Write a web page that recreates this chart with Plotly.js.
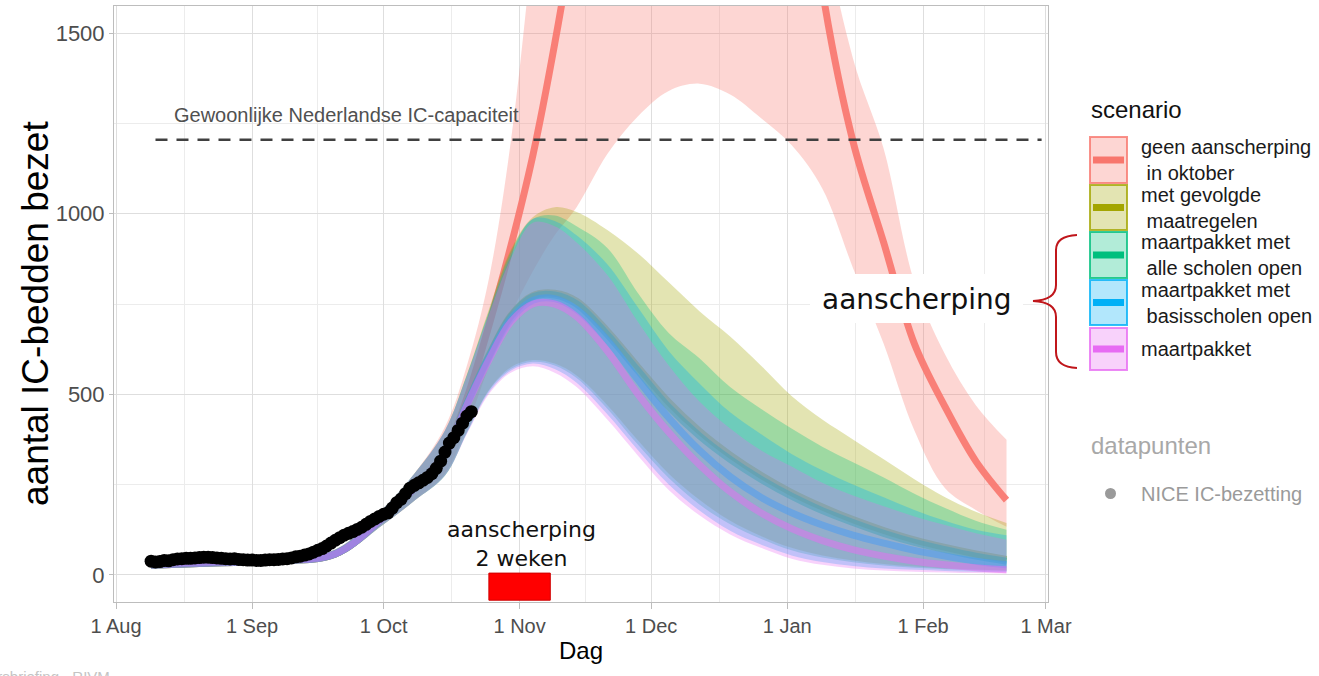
<!DOCTYPE html>
<html>
<head>
<meta charset="utf-8">
<script src="https://cdn.plot.ly/plotly-3.0.1.min.js"></script>
<style>html,body{margin:0;padding:0;background:#fff}#chart{width:1319px;height:676px}</style>
</head>
<body>
<div id="chart"></div>
<script>
// ---------------- DATA ----------------
const scenarioNames = ['geen aanscherping in oktober', 'met gevolgde maatregelen', 'maartpakket met alle scholen open', 'maartpakket met basisscholen open', 'maartpakket'];
const legendLabels = ['geen aanscherping<br>\u00a0in oktober', 'met gevolgde<br>\u00a0maatregelen', 'maartpakket met<br>\u00a0alle scholen open', 'maartpakket met<br>\u00a0basisscholen open', 'maartpakket'];
const scenarioColors = ['#F8766D', '#A3A500', '#00BF7D', '#00B0F6', '#E76BF3'];

const modelDates = ['2020-08-09','2020-08-23','2020-09-06','2020-09-20','2020-10-01','2020-10-08','2020-10-15','2020-10-20','2020-10-25','2020-10-30','2020-11-04','2020-11-09','2020-11-14','2020-11-21','2020-11-28','2020-12-05','2020-12-12','2020-12-19','2020-12-26','2021-01-02','2021-01-09','2021-01-16','2021-01-23','2021-01-30','2021-02-06','2021-02-13','2021-02-20'];

// geen aanscherping in oktober
const redMedian = [27,33,38,58,160,240,340,490,690,910,1160,1470,1830,2400,2900,3200,3300,3200,2850,2300,1620,1200,920,640,465,315,207];
const redLower  = [22,27,32,48,140,205,280,410,576,720,840,940,1018,1165,1270,1340,1360,1330,1265,1190,1070,850,640,400,240,180,133];
const redUpper  = [33,40,46,70,185,280,410,580,820,1200,1750,2400,3000,3800,4400,4700,4800,4600,4000,3100,1850,1430,1180,810,610,470,374];
// met gevolgde maatregelen
const oliveMedian = [27,33,38,58,160,240,335,475,607,718,773,780,758,675,575,478,398,332,276,228,188,153,123,97,76,58,43];
const oliveLower  = [22,27,32,48,140,205,275,395,512,575,595,585,552,470,372,280,208,150,108,75,54,40,30,23,18,15,12];
const oliveUpper  = [33,40,46,70,185,280,400,555,735,900,990,1018,1005,955,890,810,730,660,580,495,430,375,320,265,215,175,144];
// maartpakket met alle scholen open
const greenMedian = [27,33,38,58,160,240,335,475,605,715,770,775,750,665,565,465,385,320,265,218,178,145,115,90,70,52,38];
const greenLower  = [22,27,32,48,140,205,275,395,510,570,590,580,545,460,360,268,195,140,100,68,48,35,26,20,16,13,11];
const greenUpper  = [33,40,46,70,185,280,400,555,730,895,985,995,965,905,780,670,600,520,460,405,355,312,270,225,185,150,125];
// maartpakket met basisscholen open
const blueMedian = [27,33,38,58,160,240,335,472,600,708,760,765,735,650,540,435,345,272,215,172,138,110,88,68,52,38,28];
const blueLower  = [22,27,32,48,140,205,275,392,505,565,585,570,532,445,345,250,178,122,84,54,36,25,18,14,11,9,8];
const blueUpper  = [33,40,46,70,185,280,400,552,725,885,985,980,940,860,740,620,530,450,390,335,290,250,215,180,150,125,110];
// maartpakket
const pinkMedian = [27,33,38,58,160,240,335,470,595,700,750,750,715,620,500,395,305,230,172,128,95,70,52,38,28,20,14];
const pinkLower  = [22,27,32,48,140,205,275,390,500,560,578,560,520,430,330,235,165,112,75,45,28,18,12,9,7,5,4];
const pinkUpper  = [33,40,46,70,185,280,400,550,720,875,975,965,920,830,700,580,480,405,345,300,255,220,190,162,138,115,97];

// NICE IC-bezetting, daily from 9 Aug 2020
const niceStart = '2020-08-09';
const niceValues = [38,36,37,40,39,42,44,45,46,46,47,48,49,49,48,47,46,45,44,45,43,42,41,
  41,40,40,41,42,42,43,44,45,47,50,52,55,58,63,68,73,80,88,96,103,110,115,120,126,132,140,148,155,162,
  168,172,185,200,210,225,240,248,255,262,270,280,295,315,340,365,380,400,420,440,452];

const capacityValue = 1205;
const capacityFrom = '2020-08-10', capacityTo = '2021-02-28';
const lockdownFrom = '2020-10-25', lockdownTo = '2020-11-08';

const xTickStart = '2020-08-01', xTickEnd = '2021-03-01';

// ---------------- BUILD ----------------
const scen = [
  {lo: redLower, med: redMedian, up: redUpper},
  {lo: oliveLower, med: oliveMedian, up: oliveUpper},
  {lo: greenLower, med: greenMedian, up: greenUpper},
  {lo: blueLower, med: blueMedian, up: blueUpper},
  {lo: pinkLower, med: pinkMedian, up: pinkUpper}
];
function rgba(hex, a){const n=parseInt(hex.slice(1),16);return `rgba(${n>>16&255},${n>>8&255},${n&255},${a})`;}

const traces = [];
scen.forEach((s,i)=>{
  traces.push({x: modelDates, y: s.lo, type:'scatter', mode:'lines', line:{width:0, shape:'spline'}, hoverinfo:'skip', showlegend:false});
  traces.push({x: modelDates, y: s.up, type:'scatter', mode:'lines', line:{width:0, shape:'spline'}, fill:'tonexty', fillcolor: rgba(scenarioColors[i],0.3), name: scenarioNames[i], showlegend:false});
  traces.push({x: modelDates, y: s.med, type:'scatter', mode:'lines', line:{width:7, shape:'spline', color: rgba(scenarioColors[i], i===0?0.9:0.5)}, name: scenarioNames[i], showlegend:false});
});
const niceDates = niceValues.map((v,k)=>{const d=new Date(niceStart+'T00:00:00Z'); d.setUTCDate(d.getUTCDate()+k); return d.toISOString().slice(0,10);});
traces.push({x: niceDates, y: niceValues, type:'scatter', mode:'markers', marker:{size:13, color:'#000'}, name:'NICE IC-bezetting', showlegend:false});

// minor grid: midpoints between month ticks
const monthTicks = [];
{let d = new Date(xTickStart+'T00:00:00Z'); const end = new Date(xTickEnd+'T00:00:00Z');
 while (d <= end){monthTicks.push(new Date(d)); d = new Date(Date.UTC(d.getUTCFullYear(), d.getUTCMonth()+1, 1));}}
const minorX = [];
for (let k=0;k<monthTicks.length-1;k++){minorX.push(new Date((monthTicks[k].getTime()+monthTicks[k+1].getTime())/2).toISOString().slice(0,19).replace('T',' '));}

// pixel helpers for decorations
const L=114, R=1048, T=6, B=602;
const px = x => (x-L)/(R-L);
const py = y => (B-y)/(B-T);

const shapes = [
  {type:'line', xref:'x', yref:'y', x0:capacityFrom, x1:capacityTo, y0:capacityValue, y1:capacityValue, line:{color:'#404040', width:2.5, dash:'12px,9px'}, layer:'above'},
  {type:'rect', xref:'x', yref:'y', x0:lockdownFrom, x1:lockdownTo, y0:-70, y1:5, fillcolor:'#FF0000', line:{color:'#D00000', width:1}, layer:'above'},
  {type:'rect', xref:'paper', yref:'paper', x0:px(810), x1:px(1023), y0:py(323), y1:py(274), fillcolor:'#FFFFFF', line:{width:0}, layer:'above'}
];
// curly brace
{
  const pth = `M${px(1077)},${py(235)} Q${px(1056)},${py(236)} ${px(1056)},${py(250)} L${px(1056)},${py(285)} Q${px(1056)},${py(300)} ${px(1033)},${py(301)} Q${px(1056)},${py(302)} ${px(1056)},${py(317)} L${px(1056)},${py(352)} Q${px(1056)},${py(367)} ${px(1077)},${py(368)}`;
  shapes.push({type:'path', xref:'paper', yref:'paper', path:pth, line:{color:'#C0161B', width:2}, layer:'above'});
}
// legend keys
const boxes = [[137,183],[185,230],[232,278],[280,325],[328,370]];
const annotations = [];
boxes.forEach((b,i)=>{
  shapes.push({type:'rect', xref:'paper', yref:'paper', x0:px(1090), x1:px(1127), y0:py(b[1]), y1:py(b[0]), fillcolor:rgba(scenarioColors[i],0.3), line:{color:rgba(scenarioColors[i],0.8), width:2}});
  const cy=(b[0]+b[1])/2;
  shapes.push({type:'line', xref:'paper', yref:'paper', x0:px(1093), x1:px(1124), y0:py(cy), y1:py(cy), line:{color:scenarioColors[i], width:7}});
  annotations.push({xref:'paper', yref:'paper', x:px(1139), y:py(cy), xanchor:'left', yanchor:'middle', align:'left', text:legendLabels[i], showarrow:false, font:{size:20, color:'#1A1A1A'}});
});
shapes.push({type:'circle', xref:'paper', yref:'paper', x0:px(1105), x1:px(1116), y0:py(499), y1:py(488), fillcolor:'#9A9A9A', line:{width:0}});

annotations.push(
  {xref:'paper', yref:'paper', x:px(35), y:py(314), xanchor:'center', yanchor:'middle', textangle:-90, text:'aantal IC-bedden bezet', showarrow:false, font:{size:37, color:'#000'}},
  {xref:'paper', yref:'paper', x:px(1089), y:py(110), xanchor:'left', yanchor:'middle', text:'scenario', showarrow:false, font:{size:24, color:'#111'}},
  {xref:'paper', yref:'paper', x:px(1089), y:py(445), xanchor:'left', yanchor:'middle', text:'datapunten', showarrow:false, font:{size:24, color:'#A8A8A8'}},
  {xref:'paper', yref:'paper', x:px(1139), y:py(494), xanchor:'left', yanchor:'middle', text:'NICE IC-bezetting', showarrow:false, font:{size:20, color:'#9A9A9A'}},
  {xref:'paper', yref:'paper', x:px(172), y:py(115), xanchor:'left', yanchor:'middle', text:'Gewoonlijke Nederlandse IC-capaciteit', showarrow:false, font:{size:20, color:'#505050'}},
  {xref:'paper', yref:'paper', x:px(917), y:py(299), xanchor:'center', yanchor:'middle', text:'aanscherping', showarrow:false, font:{size:28, color:'#111', family:'DejaVu Sans, sans-serif'}},
  {xref:'paper', yref:'paper', x:px(521), y:py(544), xanchor:'center', yanchor:'middle', text:'aanscherping<br>2 weken', showarrow:false, font:{size:22, color:'#111', family:'DejaVu Sans, sans-serif'}},
  {xref:'paper', yref:'paper', x:px(112), y:py(666), xanchor:'right', yanchor:'top', text:'Persbriefing - RIVM', showarrow:false, font:{size:15, color:'#C4C4C4'}}
);

const layout = {
  width:1319, height:676,
  margin:{l:L, r:1319-R, t:T, b:676-B, autoexpand:false},
  paper_bgcolor:'#fff', plot_bgcolor:'#fff',
  font:{family:'Liberation Sans, Arial, sans-serif', color:'#4D4D4D'},
  showlegend:false,
  xaxis:{type:'date', range:['2020-07-31 13:00','2021-03-01 11:00'], tick0:xTickStart, dtick:'M1', tickformat:'%-d %b',
    tickfont:{size:20, color:'#4D4D4D'}, gridcolor:'#DEDEDE', gridwidth:1,
    minor:{tickmode:'array', tickvals:minorX, showgrid:true, gridcolor:'#ECECEC', gridwidth:1},
    showline:true, mirror:true, linecolor:'#BDBDBD', linewidth:1, ticks:'outside', ticklen:6, tickcolor:'#BDBDBD', zeroline:false,
    title:{text:'Dag', font:{size:24, color:'#000'}, standoff:6}},
  yaxis:{range:[-75,1575], tickmode:'array', tickvals:[0,500,1000,1500], ticktext:['0','500','1000','1500'],
    tickfont:{size:22, color:'#4D4D4D'}, gridcolor:'#DEDEDE', gridwidth:1,
    minor:{tickmode:'array', tickvals:[250,750,1250], showgrid:true, gridcolor:'#ECECEC', gridwidth:1},
    showline:true, mirror:true, linecolor:'#BDBDBD', linewidth:1, ticks:'outside', ticklen:4, tickcolor:'#BDBDBD', zeroline:false},
  shapes: shapes,
  annotations: annotations
};
Plotly.newPlot('chart', traces, layout, {displayModeBar:false, responsive:false});
</script>
</body>
</html>
